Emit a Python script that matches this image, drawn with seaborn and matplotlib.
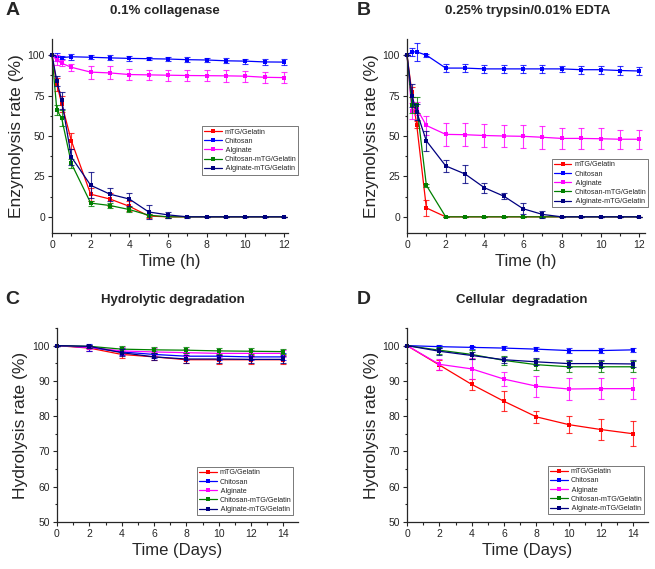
import numpy as np
import pandas as pd
import seaborn as sns
from matplotlib import pyplot as plt
from matplotlib.ticker import MultipleLocator

sns.set_style('ticks')
plt.rcParams['font.family'] = ['Liberation Sans', 'DejaVu Sans']

groups = ['mTG/Gelatin', 'Chitosan', ' Alginate', 'Chitosan-mTG/Gelatin', ' Alginate-mTG/Gelatin']
colors = ['#FF0000', '#0000FF', '#FF00FF', '#008000', '#000080']

# panel A: 0.1% collagenase
t_hours = [0, 0.25, 0.5, 1, 2, 3, 4, 5, 6, 7, 8, 9, 10, 11, 12]
a_mtg = [100, 82, 70, 47, 14, 11, 6.5, 0.5, 0, 0, 0, 0, 0, 0, 0]
a_chi = [100, 99, 98.5, 99, 98.7, 98.3, 98, 97.8, 97.6, 97.2, 97, 96.5, 96.3, 95.8, 95.7]
a_alg = [100, 97, 95, 92.5, 89.5, 89, 88, 87.8, 87.6, 87.4, 87.3, 87.2, 87, 86.3, 86.1]
a_chm = [100, 66, 61, 33, 8.5, 7, 4.5, 1, 0, 0, 0, 0, 0, 0, 0]
a_alm = [100, 84, 72, 37, 19.5, 14, 11, 3, 1.2, 0, 0, 0, 0, 0, 0]
a_mtg_err = [0, 4, 5, 5, 4, 4, 3, 1, 0.5, 0, 0, 0, 0, 0, 0]
a_chi_err = [0, 2.5, 1, 2, 1.2, 1.5, 1.5, 1, 1.2, 1.5, 1, 1.5, 1.5, 2, 2]
a_alg_err = [0, 3, 2, 2, 4, 4, 3.5, 3, 3.5, 3.5, 3.5, 3.5, 3.5, 3.5, 3.5]
a_chm_err = [0, 3, 5, 3, 1.5, 1.5, 1.5, 1, 0.5, 0, 0, 0, 0, 0, 0]
a_alm_err = [0, 3, 5, 5, 8, 4, 4, 4.5, 2, 0.5, 0, 0, 0, 0, 0]

# panel B: 0.25% trypsin/0.01% EDTA
b_mtg = [100, 77, 57, 5.5, 0, 0, 0, 0, 0, 0, 0, 0, 0, 0, 0]
b_chi = [100, 102, 102, 100, 92, 92, 91.5, 91.5, 91.5, 91.5, 91.5, 91, 91, 90.5, 90.2]
b_alg = [100, 65.5, 67, 56.5, 51, 50.8, 50.3, 50, 49.8, 49.2, 48.5, 48.5, 48.3, 48, 48]
b_chm = [100, 69, 69, 19.5, 0, 0, 0, 0, 0, 0, 0, 0, 0, 0, 0]
b_alm = [100, 75, 65, 47, 31.5, 26.5, 18, 12.8, 5, 1.5, 0, 0, 0, 0, 0]
b_mtg_err = [0, 3, 2, 5, 0, 0, 0, 0, 0, 0, 0, 0, 0, 0, 0]
b_chi_err = [0, 2.5, 5.5, 1, 2.5, 2.5, 2.5, 2.5, 2.5, 2.5, 2, 2.5, 2.5, 2.5, 2.5]
b_alg_err = [0, 5, 4, 6, 7, 7, 7, 7, 7, 7, 6.5, 6.5, 6.5, 6, 6]
b_chm_err = [0, 5, 5, 1, 0, 0, 0, 0, 0, 0, 0, 0, 0, 0, 0]
b_alm_err = [0, 7, 5, 6, 3.5, 5.5, 3, 2, 3.5, 2, 0, 0, 0, 0, 0]

# panel C: hydrolytic degradation
t_days = [0, 2, 4, 6, 8, 10, 12, 14]
c_mtg = [100, 99.3, 97.5, 96.8, 96, 96, 96, 96]
c_chi = [100, 99.5, 98.2, 97.5, 97, 97, 96.8, 96.8]
c_alg = [100, 99.5, 98.5, 98.2, 98, 97.8, 97.8, 97.8]
c_chm = [100, 99.8, 99, 98.8, 98.7, 98.5, 98.4, 98.3]
c_alm = [100, 99.8, 98, 96.8, 96.2, 96.2, 96.1, 96.1]
c_mtg_err = [0, 0.8, 1, 1, 1, 1.2, 1.2, 1.2]
c_chi_err = [0, 1, 1, 1, 1, 1, 1, 1]
c_alg_err = [0, 0.5, 1, 1, 1, 1, 1, 1]
c_chm_err = [0, 0.5, 1, 0.8, 0.8, 0.8, 0.8, 0.8]
c_alm_err = [0, 0.5, 1, 1, 1, 1, 1, 1]

# panel D: cellular degradation
d_mtg = [100, 94.5, 89, 84.2, 79.8, 77.6, 76.2, 75]
d_chi = [100, 99.7, 99.5, 99.3, 99, 98.6, 98.6, 98.8]
d_alg = [100, 94.7, 93.4, 90.5, 88.5, 87.7, 87.8, 87.8]
d_chm = [100, 98.7, 97.5, 95.8, 94.6, 94, 94, 94]
d_alm = [100, 98.4, 97.2, 96, 95.4, 94.9, 94.9, 94.8]
d_mtg_err = [0, 1.5, 1.5, 2.8, 1.7, 2.4, 3, 3.5]
d_chi_err = [0, 0.4, 0.4, 0.5, 0.5, 0.6, 0.6, 0.5]
d_alg_err = [0, 1.5, 3, 2, 3, 3, 3, 3]
d_chm_err = [0, 1, 1.2, 1.2, 1.5, 1.5, 1.5, 1.5]
d_alm_err = [0, 1, 1, 0.8, 1, 1, 1, 1]

panels = [
    dict(t=t_hours, vals=[a_mtg, a_chi, a_alg, a_chm, a_alm],
         errs=[a_mtg_err, a_chi_err, a_alg_err, a_chm_err, a_alm_err],
         pos=[0.0794, 0.5905, 0.3603, 0.341], xlim=(0, 12.2), ylim=(-10, 110),
         ymaj=25, xlabel='Time (h)', ylabel='Enzymolysis rate (%)',
         leg=(0.636, 0.55), title='0.1% collagenase', tx=0.252, ty=0.981,
         letter='A', lx=0.008, ly=0.981),
    dict(t=t_hours, vals=[b_mtg, b_chi, b_alg, b_chm, b_alm],
         errs=[b_mtg_err, b_chi_err, b_alg_err, b_chm_err, b_alm_err],
         pos=[0.6214, 0.5905, 0.3634, 0.341], xlim=(0, 12.3), ylim=(-10, 110),
         ymaj=25, xlabel='Time (h)', ylabel='Enzymolysis rate (%)',
         leg=(0.609, 0.381), title='0.25% trypsin/0.01% EDTA', tx=0.806, ty=0.981,
         letter='B', lx=0.545, ly=0.981),
    dict(t=t_days, vals=[c_mtg, c_chi, c_alg, c_chm, c_alm],
         errs=[c_mtg_err, c_chi_err, c_alg_err, c_chm_err, c_alm_err],
         pos=[0.087, 0.0826, 0.368, 0.341], xlim=(0, 14.9), ylim=(50, 105),
         ymaj=10, xlabel='Time (Days)', ylabel='Hydrolysis rate (%)',
         leg=(0.581, 0.283), title='Hydrolytic degradation', tx=0.264, ty=0.473,
         letter='C', lx=0.008, ly=0.473),
    dict(t=t_days, vals=[d_mtg, d_chi, d_alg, d_chm, d_alm],
         errs=[d_mtg_err, d_chi_err, d_alg_err, d_chm_err, d_alm_err],
         pos=[0.6214, 0.0826, 0.368, 0.341], xlim=(0, 14.9), ylim=(50, 105),
         ymaj=10, xlabel='Time (Days)', ylabel='Hydrolysis rate (%)',
         leg=(0.585, 0.289), title='Cellular  degradation', tx=0.797, ty=0.473,
         letter='D', lx=0.545, ly=0.473),
]

fig = plt.figure(figsize=(6.55, 5.69), dpi=100)

for p in panels:
    ax = fig.add_axes(p['pos'])
    for name, col, v, e in zip(groups, colors, p['vals'], p['errs']):
        df = pd.DataFrame({'t': p['t'], 'v': v})
        sns.lineplot(data=df, x='t', y='v', color=col, marker='s', markersize=3,
                     markeredgewidth=0, linewidth=0.9, label=name, ax=ax, clip_on=False)
        ax.errorbar(p['t'], v, yerr=e, fmt='none', ecolor=col, elinewidth=0.8,
                    capsize=2, capthick=0.8, alpha=0.8, clip_on=False)
    ax.set_xlim(*p['xlim'])
    ax.set_ylim(*p['ylim'])
    ax.xaxis.set_major_locator(MultipleLocator(2))
    ax.xaxis.set_minor_locator(MultipleLocator(1))
    ax.yaxis.set_minor_locator(MultipleLocator(p['ymaj'] / 2))
    if p['ymaj'] == 25:
        ax.set_yticks([0, 25, 50, 75, 100])
    else:
        ax.set_yticks([50, 60, 70, 80, 90, 100])
    ax.tick_params(which='major', length=3, width=0.8, labelsize=7.5, pad=2)
    ax.tick_params(which='minor', length=1.8, width=0.8)
    for s in ['left', 'bottom']:
        ax.spines[s].set_linewidth(0.9)
    sns.despine(ax=ax)
    ax.set_xlabel(p['xlabel'], fontsize=12, labelpad=3)
    ax.set_ylabel(p['ylabel'], fontsize=12.5, labelpad=3)
    leg = ax.legend(loc='upper left', bbox_to_anchor=p['leg'], fontsize=5.2,
                    frameon=True, fancybox=False, edgecolor='#444444', framealpha=1,
                    handlelength=2.4, handletextpad=0.4, borderpad=0.3, labelspacing=0.3,
                    borderaxespad=0)
    leg.get_frame().set_linewidth(0.5)
    fig.text(p['tx'], p['ty'], p['title'], fontsize=9.5, fontweight='bold',
             ha='center', va='center')
    fig.text(p['lx'], p['ly'], p['letter'], fontsize=14, fontweight='bold',
             ha='left', va='center')

fig.savefig('out.png', dpi=100)
